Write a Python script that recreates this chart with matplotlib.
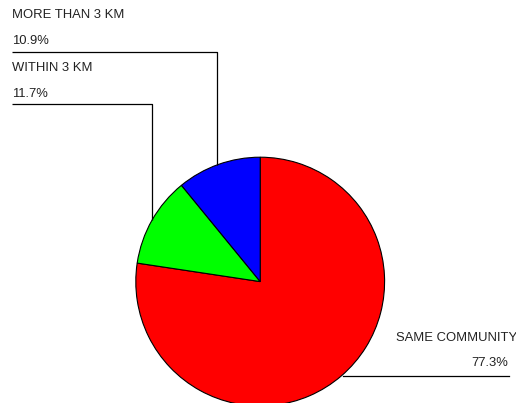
import numpy as np
import matplotlib
matplotlib.use("Agg")
import matplotlib.pyplot as plt

# Share of respondents by distance
categories = ["SAME COMMUNITY", "WITHIN 3 KM", "MORE THAN 3 KM"]
shares = [77.3, 11.7, 10.9]
colors = ["#ff0000", "#00ff00", "#0000ff"]

W, H = 516, 403
fig = plt.figure(figsize=(W / 100, H / 100), dpi=100)
ax = fig.add_axes([0, 0, 1, 1])

cx, cy, r = 260.2, H - 281.6, 124.4
wedges, _ = ax.pie(shares, colors=colors, startangle=90, counterclock=False,
                   center=(cx, cy), radius=r, frame=True,
                   wedgeprops=dict(edgecolor="black", linewidth=0.8))
ax.set_xlim(0, W)
ax.set_ylim(0, H)
ax.set_aspect("equal")
ax.axis("off")

font = dict(family="Liberation Sans", fontsize=9.4, color="#222222")
lw = 0.9


def circle_y_top(x):
    return cy + np.sqrt(r ** 2 - (x - cx) ** 2)


# Upper-left labels with elbow leaders
upper = [(2, 217, 52.3, 15, 41), (1, 152, 104, 68, 94)]
for idx, xv, yline, ytitle, yval in upper:
    ax.plot([12, xv, xv], [H - yline, H - yline, circle_y_top(xv)],
            color="black", lw=lw, solid_capstyle="butt")
    ax.text(12, H - ytitle, categories[idx], ha="left", va="center", **font)
    ax.text(12, H - yval, f"{shares[idx]:.1f}%", ha="left", va="center", **font)

# Lower-right label
x0 = 343
ax.plot([x0, 509], [H - 375.5, H - 375.5], color="black", lw=lw)
ax.text(517, H - 338, categories[0], ha="right", va="center", **font)
ax.text(508, H - 363, f"{shares[0]:.1f}%", ha="right", va="center", **font)

fig.savefig("out.png", dpi=100)
